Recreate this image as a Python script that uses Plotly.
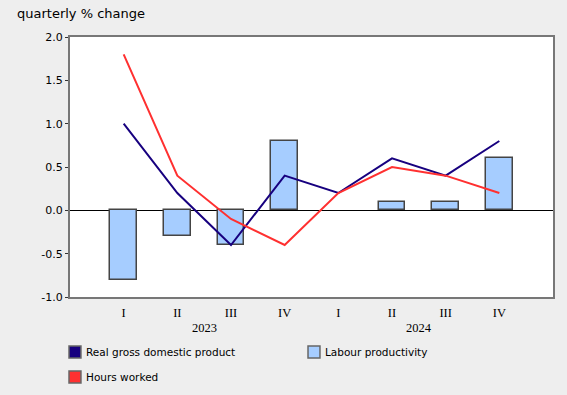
import plotly.graph_objects as go

quarters = ["I", "II", "III", "IV", "I", "II", "III", "IV"]
years = ["2023", "2024"]
gdp = [1.0, 0.2, -0.4, 0.4, 0.2, 0.6, 0.4, 0.8]
hours = [1.8, 0.4, -0.1, -0.4, 0.2, 0.5, 0.4, 0.2]
productivity = [-0.8, -0.3, -0.4, 0.8, None, 0.1, 0.1, 0.6]
y_ticks = [-1.0, -0.5, 0.0, 0.5, 1.0, 1.5, 2.0]

W, H = 567, 395
L, R, T, B = 70, 555, 37, 297

def px(x):
    return (x - L) / (R - L)

def py(y):
    return (B - y) / (B - T)

xs = list(range(len(quarters)))

NAVY = "#17007f"
RED = "#ff3030"
BLUE = "#a6cdff"

fig = go.Figure()
fig.add_trace(go.Bar(x=xs, y=productivity, width=0.5, marker=dict(color=BLUE, line=dict(color="#444444", width=1.5)),
                     name="Labour productivity", showlegend=False))
fig.add_trace(go.Scatter(x=xs, y=gdp, mode="lines", line=dict(color=NAVY, width=2),
                         name="Real gross domestic product", showlegend=False))
fig.add_trace(go.Scatter(x=xs, y=hours, mode="lines", line=dict(color=RED, width=2),
                         name="Hours worked", showlegend=False))

fig.update_layout(
    width=W, height=H,
    margin=dict(l=L, r=W - R, t=T, b=H - B, pad=0),
    paper_bgcolor="#eeeeee", plot_bgcolor="#ffffff",
    font=dict(family="DejaVu Sans", size=11, color="#000000"),
    showlegend=False,
    bargap=0,
)
fig.update_xaxes(range=[-1, 8], tickvals=xs, ticktext=quarters, showgrid=False, zeroline=False,
                 showline=True, linecolor="#777777", linewidth=2, mirror=True, ticks="",
                 tickfont=dict(family="Liberation Serif", size=12.5), ticklabelstandoff=3)
fig.update_yaxes(range=[-1, 2], tickvals=y_ticks, ticktext=[f"{v:.1f}" for v in y_ticks], showgrid=False,
                 zeroline=True, zerolinecolor="#000000", zerolinewidth=1,
                 showline=True, linecolor="#777777", linewidth=2, mirror=True,
                 ticks="outside", ticklen=3, tickcolor="#333333", tickwidth=1,
                 tickfont=dict(size=11))

# year labels
for i, yr in enumerate(years):
    fig.add_annotation(x=1.5 + 4 * i, y=py(328), xref="x", yref="paper", text=yr, showarrow=False,
                       font=dict(family="Liberation Serif", size=12.5), xanchor="center", yanchor="middle")

# title
fig.add_annotation(x=px(15), y=py(13), xref="paper", yref="paper", text="quarterly % change", showarrow=False,
                   font=dict(size=13), xanchor="left", yanchor="middle")

# legend
legend_items = [
    ("Real gross domestic product", NAVY, 69, 352),
    ("Labour productivity", BLUE, 309, 352),
    ("Hours worked", RED, 69, 377),
]
for label, col, x0, yc in legend_items:
    fig.add_shape(type="rect", xref="paper", yref="paper", x0=px(x0), x1=px(x0 + 12), y0=py(yc + 6), y1=py(yc - 6),
                  fillcolor=col, line=dict(color="#666666", width=1.5))
    fig.add_annotation(x=px(x0 + 15), y=py(yc), xref="paper", yref="paper", text=label, showarrow=False,
                       font=dict(size=10.5), xanchor="left", yanchor="middle")

fig.write_html("out.html", config={"displayModeBar": False},
               post_script="document.body.style.margin='0';document.body.style.background='#eeeeee';")
